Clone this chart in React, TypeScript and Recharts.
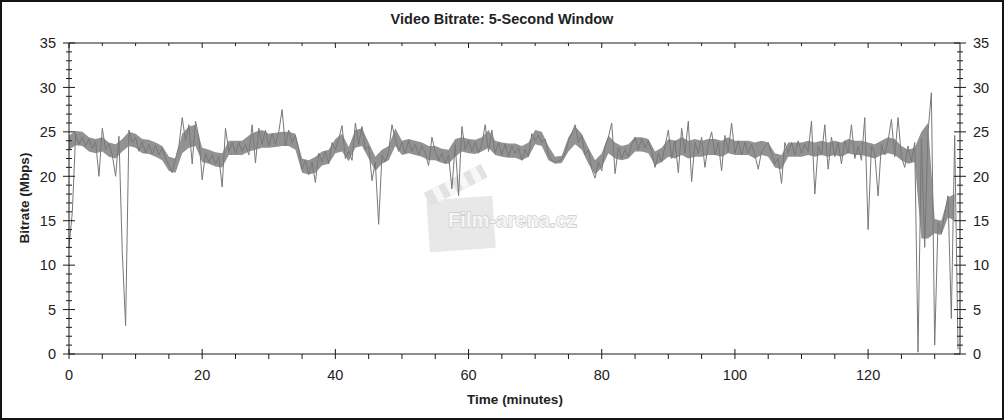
import React from 'react';
import { ComposedChart, Line, Area, XAxis, YAxis } from 'recharts';

// Video bitrate (Mbps), one reading every STEP_MINUTES
const BITRATE_MBPS: number[] = [
  12, 16, 24.8, 23.6, 24.4, 23.4, 24.2, 23.1, 23.9, 20,
  25.4, 23.0, 23.6, 22.4, 20.0, 24.5, 11.5, 3.2, 25.2, 23.8,
  24.4, 22.8, 23.9, 22.6, 23.6, 22.5, 23.5, 22.4, 23.2, 22.0,
  21.2, 20.4, 22.0, 23.4, 26.6, 24.0, 25.8, 21.4, 26.2, 24.4,
  19.6, 22.6, 21.6, 22.4, 21.4, 22.2, 18.8, 25.4, 22.8, 23.8,
  22.6, 23.8, 22.8, 23.6, 22.4, 25.8, 21.5, 25.4, 23.6, 25.2,
  23.4, 24.8, 23.6, 25.0, 27.5, 23.4, 25.2, 23.8, 24.6, 23.0,
  20.8, 21.8, 20.2, 21.6, 19.3, 22.6, 21.6, 22.8, 21.4, 23.8,
  23.0, 24.2, 25.7, 22.0, 22.8, 21.8, 26.0, 23.6, 25.6, 23.0,
  23.4, 19.5, 21.6, 14.6, 22.4, 21.6, 22.8, 25.8, 24.2, 22.8,
  23.8, 22.6, 24.0, 22.8, 23.6, 22.4, 23.4, 22.6, 21.2, 24.4,
  22.8, 21.8, 22.6, 21.4, 22.4, 18.6, 23.6, 17.8, 25.6, 23.0,
  24.0, 22.8, 23.8, 22.6, 23.6, 25.8, 22.8, 25.2, 22.6, 23.8,
  22.4, 23.6, 22.2, 23.4, 22.6, 23.2, 21.8, 23.0, 22.2, 24.8,
  24.0, 24.6, 23.8, 24.2, 22.4, 21.8, 21.6, 21.7, 21.9, 22.6,
  24.0, 24.8, 25.8, 23.8, 24.6, 22.4, 23.0, 20.8, 19.8, 21.6,
  20.6, 23.4, 24.4, 26.0, 20.3, 23.2, 22.0, 23.0, 22.2, 23.6,
  24.4, 23.0, 24.2, 23.2, 24.0, 22.8, 21.0, 22.6, 21.6, 23.4,
  25.2, 22.0, 24.0, 20.4, 25.4, 22.6, 26.2, 19.4, 23.8, 22.6,
  24.4, 21.0, 23.6, 25.0, 22.4, 23.8, 20.6, 24.6, 22.8, 26.0,
  22.6, 24.0, 22.4, 23.8, 22.6, 23.6, 22.4, 20.8, 22.8, 23.4,
  23.8, 22.6, 21.4, 22.0, 19.2, 23.8, 22.6, 23.8, 22.4, 24.0,
  22.6, 23.6, 22.8, 26.2, 18.0, 23.4, 22.4, 25.8, 20.8, 24.4,
  22.2, 23.8, 21.4, 24.0, 22.6, 25.8, 22.0, 23.4, 21.8, 26.6,
  14.0, 23.4, 22.6, 17.8, 23.6, 22.4, 24.0, 26.4, 22.2, 26.6,
  22.2, 21.0, 23.4, 21.6, 23.8, 0.2, 24.2, 12.0, 25.0, 29.4,
  1.0, 14.8, 13.6, 15.8, 17.8, 4.0, 24.6, 0.5,
];
const STEP_MINUTES = 0.5;

// Spread of the dense 5-second trace, one low/high pair per whole minute (0..133)
const BAND_LOW: number[] = [
  23.0, 23.5, 23.4, 22.8, 22.6, 22.8, 22.2, 22.0, 22.8, 23.4,
  23.2, 22.6, 22.5, 22.2, 21.8, 20.6, 20.4, 22.6, 23.2, 23.4,
  21.6, 21.4, 21.1, 21.0, 22.4, 22.4, 22.4, 22.8, 23.0, 23.2,
  23.2, 23.3, 23.4, 23.4, 23.0, 20.4, 20.2, 20.4, 21.2, 21.4,
  22.6, 22.8, 21.7, 23.2, 23.4, 22.0, 20.6, 21.4, 21.8, 23.4,
  22.4, 22.6, 22.4, 22.2, 21.8, 21.8, 21.5, 21.4, 22.2, 22.8,
  22.6, 22.5, 22.8, 23.2, 22.4, 22.2, 22.1, 22.1, 21.8, 22.2,
  23.6, 23.4, 21.8, 21.4, 21.5, 22.8, 23.6, 23.0, 21.4, 20.2,
  21.0, 22.6, 22.0, 21.8, 22.0, 22.8, 22.8, 22.6, 21.2, 21.6,
  22.2, 22.0, 22.4, 22.0, 22.2, 22.2, 22.4, 22.4, 22.2, 22.6,
  22.4, 22.4, 22.4, 22.0, 22.4, 22.2, 21.0, 20.8, 22.2, 22.2,
  22.2, 22.4, 22.2, 22.4, 22.2, 22.4, 22.2, 22.6, 22.4, 22.4,
  22.2, 22.0, 22.4, 22.6, 22.4, 21.8, 21.4, 21.6, 13.0, 13.0,
  13.6, 13.4, 15.4, 15.0,
];
const BAND_HIGH: number[] = [
  24.6, 25.1, 25.0, 24.4, 24.2, 24.4, 23.8, 23.6, 24.2, 25.0,
  24.8, 24.2, 24.1, 23.8, 23.4, 22.2, 22.0, 24.8, 25.6, 25.8,
  23.2, 23.0, 22.7, 22.6, 24.0, 24.0, 24.0, 24.6, 25.0, 25.2,
  24.8, 24.9, 25.0, 25.0, 24.8, 22.0, 21.8, 22.2, 22.8, 23.0,
  24.2, 24.8, 23.3, 25.2, 25.4, 23.8, 22.2, 23.0, 23.4, 25.4,
  24.0, 24.2, 24.0, 23.8, 23.4, 23.4, 23.1, 23.0, 24.2, 24.4,
  24.2, 24.1, 24.4, 25.2, 24.0, 23.8, 23.7, 23.7, 23.4, 23.8,
  25.2, 25.0, 23.4, 22.2, 22.3, 24.4, 25.6, 24.8, 23.2, 21.8,
  22.6, 24.6, 23.8, 23.4, 23.6, 24.4, 24.4, 24.2, 22.8, 23.2,
  24.2, 24.0, 24.4, 24.0, 24.2, 24.0, 24.2, 24.2, 24.0, 24.4,
  24.0, 24.0, 24.0, 23.8, 24.0, 23.8, 22.6, 22.4, 23.8, 23.8,
  23.8, 24.0, 23.8, 24.0, 23.8, 24.0, 23.8, 24.2, 24.0, 24.0,
  23.8, 23.6, 24.0, 24.4, 24.2, 23.4, 23.0, 23.2, 25.0, 26.0,
  15.2, 15.0, 17.6, 18.0,
];

const X_MAX_MINUTES = 133.8;
const X_TICKS = [0, 5, 10, 15, 20, 25, 30, 35, 40, 45, 50, 55, 60, 65, 70, 75, 80, 85, 90, 95, 100, 105, 110, 115, 120, 125, 130];
const X_LABELS = [0, 20, 40, 60, 80, 100, 120];
const Y_TICKS = [0, 1, 2, 3, 4, 5, 6, 7, 8, 9, 10, 11, 12, 13, 14, 15, 16, 17, 18, 19, 20, 21, 22, 23, 24, 25, 26, 27, 28, 29, 30, 31, 32, 33, 34, 35];
const Y_LABELS = [0, 5, 10, 15, 20, 25, 30, 35];

const TITLE = 'Video Bitrate: 5-Second Window';
const X_TITLE = 'Time (minutes)';
const Y_TITLE = 'Bitrate (Mbps)';
const WATERMARK = 'Film-arena.cz';

const data = BITRATE_MBPS.map((v, i) => {
  const minute = i * STEP_MINUTES;
  const row: any = { t: minute, v };
  if (Number.isInteger(minute) && minute < BAND_LOW.length) {
    row.band = [BAND_LOW[minute], BAND_HIGH[minute]];
  }
  return row;
});

const FONT = '"Liberation Sans", Arial, sans-serif';
const AX = '#1a1a1a';
const TXT = '#222';

const leftTick = (p: any) => {
  const { x, y, payload } = p;
  const major = Y_LABELS.includes(payload.value);
  const s = major ? 6 : 3;
  return (
    <g>
      <line x1={x - s} x2={x + s} y1={y} y2={y} stroke={AX} strokeWidth={1} />
      {major && (
        <text x={x - 13} y={y} dy="0.36em" textAnchor="end" fontSize={14.5} fontFamily={FONT} fill={TXT}>
          {payload.value}
        </text>
      )}
    </g>
  );
};

const rightTick = (p: any) => {
  const { x, y, payload } = p;
  const major = Y_LABELS.includes(payload.value);
  const s = major ? 6 : 3;
  return (
    <g>
      <line x1={x - s} x2={x + s} y1={y} y2={y} stroke={AX} strokeWidth={1} />
      {major && (
        <text x={x + 13} y={y} dy="0.36em" textAnchor="start" fontSize={14.5} fontFamily={FONT} fill={TXT}>
          {payload.value}
        </text>
      )}
    </g>
  );
};

const bottomTick = (p: any) => {
  const { x, y, payload } = p;
  const major = X_LABELS.includes(payload.value);
  return (
    <g>
      <line x1={x} x2={x} y1={major ? y - 5 : y} y2={y + 5} stroke={AX} strokeWidth={1} />
      {major && (
        <text x={x} y={y + 21} dy="0.36em" textAnchor="middle" fontSize={14.5} fontFamily={FONT} fill={TXT}>
          {payload.value}
        </text>
      )}
    </g>
  );
};

const topTick = (p: any) => {
  const { x, y, payload } = p;
  const major = X_LABELS.includes(payload.value);
  return (
    <g>
      <line x1={x} x2={x} y1={y} y2={y + (major ? 5 : 3)} stroke={AX} strokeWidth={1} />
    </g>
  );
};

export default function App() {
  return (
    <div style={{ position: 'absolute', left: 0, top: 0, width: 1004, height: 420, background: '#fff', overflow: 'hidden' }}>
      <svg width={1004} height={420} style={{ position: 'absolute', left: 0, top: 0 }}>
        <text x={502} y={19} dy="0.36em" textAnchor="middle" fontSize={14.5} fontWeight="bold" fontFamily={FONT} fill={TXT}>
          {TITLE}
        </text>
        <text x={515} y={399} dy="0.36em" textAnchor="middle" fontSize={13.5} fontWeight="bold" fontFamily={FONT} fill={TXT}>
          {X_TITLE}
        </text>
        <text
          x={0}
          y={0}
          dy="0.36em"
          transform="translate(24,198) rotate(-90)"
          textAnchor="middle"
          fontSize={13.5}
          fontWeight="bold"
          fontFamily={FONT}
          fill={TXT}
        >
          {Y_TITLE}
        </text>
        <g opacity={0.85}>
          <g transform="translate(462,223) rotate(-4)">
            <rect x={-34} y={-25} width={66} height={52} fill="#e4e4e4" />
          </g>
          <g transform="translate(455,186) rotate(-27)">
            <rect x={-31} y={-8} width={64} height={15} fill="#dedede" />
            <rect x={-22} y={-8} width={7} height={15} fill="#f6f6f6" />
            <rect x={-8} y={-8} width={7} height={15} fill="#f6f6f6" />
            <rect x={6} y={-8} width={7} height={15} fill="#f6f6f6" />
            <rect x={20} y={-8} width={7} height={15} fill="#f6f6f6" />
          </g>
          <text
            x={448}
            y={227}
            fontSize={21}
            fontWeight="bold"
            fontFamily={FONT}
            fill="#f4f4f4"
            stroke="#c4c4c4"
            strokeWidth={1.4}
            paintOrder="stroke"
            textLength={129}
            lengthAdjust="spacingAndGlyphs"
          >
            {WATERMARK}
          </text>
        </g>
      </svg>
      <div style={{ position: 'absolute', left: 0, top: 0 }}>
        <ComposedChart width={1004} height={420} data={data} margin={{ top: 33, right: 0, bottom: 36, left: 0 }}>
          <XAxis
            xAxisId="bottom"
            dataKey="t"
            type="number"
            domain={[0, X_MAX_MINUTES]}
            allowDataOverflow
            ticks={X_TICKS}
            interval={0}
            height={30}
            tick={bottomTick}
            tickLine={false}
            tickSize={0}
            tickMargin={0}
            axisLine={{ stroke: AX }}
          />
          <XAxis
            xAxisId="top"
            orientation="top"
            dataKey="t"
            type="number"
            domain={[0, X_MAX_MINUTES]}
            allowDataOverflow
            ticks={X_TICKS}
            interval={0}
            height={10}
            tick={topTick}
            tickLine={false}
            tickSize={0}
            tickMargin={0}
            axisLine={{ stroke: AX }}
          />
          <YAxis
            yAxisId="left"
            type="number"
            domain={[0, 35]}
            allowDataOverflow
            ticks={Y_TICKS}
            interval={0}
            width={69}
            tick={leftTick}
            tickLine={false}
            tickSize={0}
            tickMargin={0}
            axisLine={{ stroke: AX }}
          />
          <YAxis
            yAxisId="right"
            orientation="right"
            type="number"
            domain={[0, 35]}
            allowDataOverflow
            ticks={Y_TICKS}
            interval={0}
            width={44}
            tick={rightTick}
            tickLine={false}
            tickSize={0}
            tickMargin={0}
            axisLine={{ stroke: AX }}
          />
          <Area
            xAxisId="bottom"
            yAxisId="left"
            type="linear"
            dataKey="band"
            stroke="none"
            fill="#929292"
            fillOpacity={1}
            connectNulls
            dot={false}
            activeDot={false}
            isAnimationActive={false}
          />
          <Line
            xAxisId="bottom"
            yAxisId="left"
            type="linear"
            dataKey="v"
            stroke="#787878"
            strokeWidth={1}
            dot={false}
            activeDot={false}
            isAnimationActive={false}
          />
        </ComposedChart>
      </div>
      <div
        style={{
          position: 'absolute',
          left: 0,
          top: 0,
          width: 1004,
          height: 420,
          boxSizing: 'border-box',
          border: '2px solid #141414',
          pointerEvents: 'none',
        }}
      />
    </div>
  );
}
